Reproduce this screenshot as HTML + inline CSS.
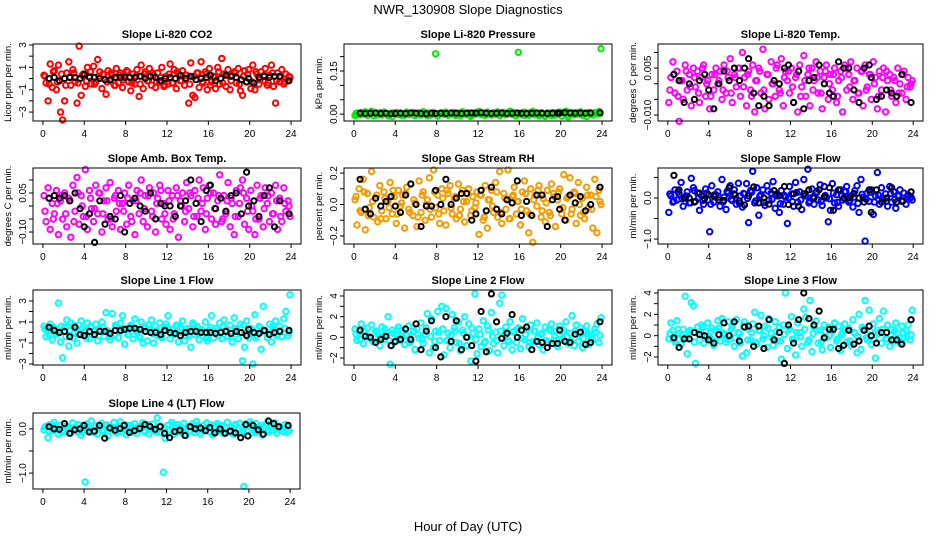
<!DOCTYPE html>
<html><head><meta charset="utf-8"><title>NWR_130908 Slope Diagnostics</title>
<style>
html,body{margin:0;padding:0;background:#fff;}
svg{display:block;font-family:"Liberation Sans",Arial,sans-serif;}
</style></head>
<body>
<svg id="chart" width="936" height="540" viewBox="0 0 936 540" xmlns="http://www.w3.org/2000/svg">
<rect x="0" y="0" width="936" height="540" fill="#fff"/>
<text x="468" y="14" text-anchor="middle" font-size="13">NWR_130908  Slope Diagnostics</text>
<text x="468" y="531" text-anchor="middle" font-size="13">Hour of Day (UTC)</text>
</svg>
<script>
// ---- shared x categories (hours) ----
const hours = [0.1,0.3,0.5,0.7,0.9,1.1,1.3,1.5,1.7,1.9,2.1,2.3,
2.5,2.7,2.9,3.1,3.3,3.5,3.7,3.9,4.1,4.3,4.5,4.7,
4.9,5.1,5.3,5.5,5.7,5.9,6.1,6.3,6.5,6.7,6.9,7.1,
7.3,7.5,7.7,7.9,8.1,8.3,8.5,8.7,8.9,9.1,9.3,9.5,
9.7,9.9,10.1,10.3,10.5,10.7,10.9,11.1,11.3,11.5,11.7,11.9,
12.1,12.3,12.5,12.7,12.9,13.1,13.3,13.5,13.7,13.9,14.1,14.3,
14.5,14.7,14.9,15.1,15.3,15.5,15.7,15.9,16.1,16.3,16.5,16.7,
16.9,17.1,17.3,17.5,17.7,17.9,18.1,18.3,18.5,18.7,18.9,19.1,
19.3,19.5,19.7,19.9,20.1,20.3,20.5,20.7,20.9,21.1,21.3,21.5,
21.7,21.9,22.1,22.3,22.5,22.7,22.9,23.1,23.3,23.5,23.7,23.9];
const coreHours = [0.2,0.6,1.0,1.4,1.8,2.2,2.6,3.0,3.4,3.8,4.2,4.6,5.0,5.4,5.8,6.2,6.6,7.0,7.4,7.8,
8.2,8.6,9.0,9.4,9.8,10.2,10.6,11.0,11.4,11.8,12.2,12.6,13.0,13.4,13.8,14.2,14.6,15.0,15.4,15.8,
16.2,16.6,17.0,17.4,17.8,18.2,18.6,19.0,19.4,19.8,20.2,20.6,21.0,21.4,21.8,22.2,22.6,23.0,23.4,23.8];
const blackHours = [0.6,1.1,1.6,2.1,2.6,3.1,3.6,4.0,4.5,5.0,5.5,6.0,6.5,7.0,7.5,7.9,8.4,8.9,9.4,9.9,10.4,10.9,11.4,11.8,12.3,12.8,13.3,13.8,14.3,14.8,15.3,15.8,16.2,16.7,17.2,17.7,18.2,18.7,19.2,19.7,19.9,20.4,20.9,21.4,21.9,22.4,22.9,23.8];
const xTicks = [0,4,8,12,16,20,24];

// ---- series values ----
const co2Vals = [0.3,-0.4,-2.0,1.3,-0.8,0.7,-1.0,1.2,-3.0,-3.7,-2.0,0.5,
1.5,-0.6,0.8,-0.3,-2.2,2.9,-1.5,0.4,-0.7,1.0,0.2,-0.5,
1.1,-0.3,1.7,0.6,-0.9,0.4,-1.4,0.7,-0.2,0.3,-0.6,0.9,
-0.4,0.5,-0.8,0.2,0.7,-0.3,-1.1,0.4,-0.5,0.8,-1.6,1.2,
-0.9,0.6,-0.2,0.9,-0.6,0.3,-0.8,0.5,-0.3,1.0,-0.7,0.2,
-0.5,1.3,-0.4,0.8,-0.9,0.4,-0.2,0.7,-0.6,0.3,-2.2,1.4,
-1.5,-1.7,0.5,-0.8,1.5,-0.4,0.6,-1.0,0.9,-0.3,0.2,-0.9,
1.0,-0.5,1.8,0.4,-0.7,0.8,-1.0,0.3,0.6,-0.4,0.9,-1.1,
-1.5,0.7,-0.3,0.8,-0.9,1.2,-1.0,0.4,-0.5,0.6,-0.2,0.9,
-0.6,0.3,1.2,-0.7,-2.2,0.5,-0.3,0.8,-0.5,0.4,-0.2,0.1];
const co2Core = [0.2,-0.5,0.6,-0.3,0.4,-0.6,0.1,0.5,-0.4,0.3,-0.2,0.6,-0.5,0.2,0.4,-0.3,0.5,-0.6,0.3,-0.1,
0.6,-0.4,0.2,-0.5,0.4,-0.2,0.5,-0.3,0.1,-0.6,0.4,-0.4,0.6,-0.2,0.3,-0.5,0.2,0.5,-0.3,0.4,
-0.6,0.1,0.6,-0.4,0.3,-0.2,0.5,-0.5,0.2,0.4,-0.3,0.6,-0.1,0.3,-0.4,0.5,-0.2,0.1,-0.3,0.2];
const co2Black = [0,0.1,-0.2,0,0.1,0.1,0.0,0.4,0.1,0.1,0.0,-0.1,-0.1,0.1,0.1,0.1,0.1,0.1,0.2,0.0,0.2,0.1,-0.2,0.0,0.1,0.0,0.3,0.0,0.2,-0.1,0.0,0.1,0.3,-0.2,0.0,0.3,0.2,0.1,-0.1,-0.3,0.0,-0.4,0.1,0.2,0.1,0.2,0.2,-0.2];

const presVals = [-0.005,0.003,-0.002,0.006,0.000,0.008,-0.004,0.002,0.010,-0.006,0.004,-0.001,
0.005,-0.003,0.007,0.001,-0.005,0.003,-0.008,0.002,0.006,-0.002,0.004,0.000,
-0.004,0.007,-0.001,0.003,0.006,-0.005,0.002,0.005,-0.003,0.008,0.000,-0.006,
0.004,-0.002,0.006,0.210,-0.007,0.003,0.005,-0.001,0.007,-0.004,0.002,0.000,
0.006,-0.003,0.004,-0.006,0.008,0.001,-0.002,0.005,-0.008,0.003,0.000,0.006,
0.009,-0.001,0.004,-0.004,0.007,0.002,-0.003,0.005,0.000,0.008,-0.005,0.003,
0.006,-0.002,0.004,0.010,-0.001,0.005,-0.006,0.215,0.002,-0.003,0.007,0.001,
-0.004,0.006,0.009,-0.002,0.003,-0.006,0.005,0.000,-0.008,0.004,0.002,-0.005,
0.006,-0.003,0.001,0.007,-0.007,0.004,0.010,-0.009,0.003,0.006,-0.002,0.005,
0.000,0.008,-0.004,0.003,-0.008,0.006,0.001,-0.003,0.005,0.002,0.009,0.228];
const presCore = [0.002,-0.002,0.004,0.000,0.003,-0.003,0.005,0.001,-0.001,0.004,0.002,-0.004,0.003,0.000,0.005,-0.002,0.001,0.004,-0.003,0.002,
0.000,0.005,-0.001,0.003,-0.004,0.002,0.004,0.000,-0.002,0.005,0.001,-0.003,0.003,0.002,-0.001,0.004,0.000,0.006,-0.002,0.003,
0.001,-0.004,0.005,0.002,-0.001,0.003,0.000,0.004,-0.003,0.002,0.005,-0.002,0.001,0.004,0.000,-0.003,0.003,0.002,0.005,0.001];
const presBlack = [0.003,0.002,0.003,0.004,0.002,0.003,0.001,0.002,0.003,0.002,0.004,0.003,0.002,0.001,0.003,0.002,0.003,0.002,0.004,0.003,0.002,0.003,0.004,0.003,0.005,0.003,0.002,0.003,0.004,0.002,0.003,0.004,0.003,0.002,0.003,0.004,0.003,0.002,0.003,0.004,0.003,0.005,0.004,0.003,0.004,0.003,0.004,0.005];

const tempVals = [-0.006,0.002,0.007,-0.003,0.004,-0.012,0.001,-0.005,0.006,-0.002,0.003,-0.007,
0.005,-0.001,0.004,-0.006,0.002,0.006,-0.004,0.001,-0.008,0.003,-0.002,0.005,
0.000,0.004,-0.005,0.006,-0.003,0.002,0.008,-0.006,0.003,-0.001,0.005,-0.004,
0.010,0.002,-0.007,0.004,-0.002,0.006,-0.009,0.001,0.005,-0.003,0.011,-0.008,
0.003,-0.005,0.007,0.000,-0.004,0.006,-0.002,0.008,-0.007,0.004,0.001,-0.003,
0.005,-0.006,0.002,-0.009,0.006,-0.001,0.009,-0.004,0.003,-0.007,0.005,0.001,
0.007,-0.003,0.004,-0.008,0.002,0.006,-0.005,0.003,-0.002,0.005,-0.006,0.001,
0.004,-0.009,0.006,-0.002,0.003,0.007,-0.005,0.001,0.005,-0.003,0.004,-0.007,
0.006,-0.001,0.003,-0.005,0.007,0.002,-0.008,0.004,-0.002,0.005,-0.009,0.001,
0.003,-0.004,0.002,-0.006,0.005,0.000,-0.003,0.004,-0.005,0.002,-0.001,0.001];
const tempCore = [-0.002,0.003,-0.004,0.001,0.004,-0.001,0.002,-0.003,0.005,0.000,-0.004,0.003,0.001,-0.002,0.004,-0.003,0.002,0.005,-0.001,0.003,
-0.004,0.001,0.004,-0.002,0.003,0.000,0.005,-0.003,0.002,0.004,-0.001,0.003,-0.004,0.001,0.005,-0.002,0.002,-0.003,0.004,0.000,
0.003,-0.004,0.002,0.005,-0.001,0.001,-0.003,0.004,-0.002,0.003,0.000,-0.004,0.002,0.004,-0.002,0.001,-0.003,0.003,-0.001,0.000];
const tempBlack = [0.003,0.001,-0.006,0.000,-0.005,0.001,0.003,-0.002,-0.008,0.000,0.004,0.001,0.005,0.001,0.005,0.008,-0.003,-0.007,-0.004,-0.007,0.001,0.000,0.005,0.006,-0.006,0.004,-0.008,0.001,0.002,0.006,0.000,-0.003,-0.004,0.007,0.005,0.005,-0.002,-0.006,0.005,0.006,0.002,-0.005,-0.004,-0.002,-0.003,-0.004,0.003,-0.006];

const ambVals = [0.04,-0.06,0.07,-0.09,0.01,-0.03,0.06,-0.11,0.02,-0.05,0.05,-0.08,
0.03,-0.12,0.08,-0.02,0.11,-0.07,0.04,-0.04,0.14,-0.09,0.06,-0.01,
-0.06,0.08,-0.03,0.05,-0.10,0.02,0.07,-0.05,0.09,-0.08,0.03,-0.02,
0.06,-0.09,0.01,0.05,-0.07,0.08,-0.04,0.02,-0.11,0.06,-0.03,0.10,
-0.06,0.04,-0.08,0.07,-0.02,0.05,-0.10,0.03,0.08,-0.05,0.01,-0.07,
0.06,-0.09,0.04,-0.03,0.07,-0.12,0.02,0.05,-0.06,0.09,-0.01,0.04,
-0.08,0.06,-0.04,0.10,-0.02,0.07,-0.09,0.03,0.08,-0.05,0.05,-0.07,
0.02,0.12,-0.06,0.04,-0.03,0.09,-0.08,0.01,-0.11,0.06,-0.04,0.07,
0.10,-0.07,0.03,-0.09,0.06,-0.02,-0.11,0.08,-0.05,0.04,-0.08,0.07,
0.01,-0.06,0.05,-0.03,0.08,-0.09,0.03,-0.06,0.07,-0.02,0.02,-0.04];
const ambCore = [-0.02,0.03,-0.05,0.01,0.04,-0.03,0.02,-0.06,0.05,0.00,-0.04,0.03,-0.01,0.05,-0.03,0.02,-0.05,0.04,0.01,-0.02,
0.03,-0.06,0.02,0.05,-0.01,0.04,-0.04,0.01,0.06,-0.03,0.02,-0.05,0.04,0.00,-0.02,0.05,-0.04,0.03,0.01,-0.03,
0.05,-0.01,0.04,-0.05,0.02,0.03,-0.04,0.01,0.05,-0.02,0.00,-0.05,0.03,-0.01,0.04,-0.03,0.02,-0.04,0.01,0.00];
const ambBlack = [0.03,0.04,0.03,0.04,0.02,0.05,-0.01,-0.08,-0.03,-0.14,0.02,-0.07,-0.04,-0.05,0.04,-0.10,0.01,0.03,0.00,-0.02,0.05,-0.05,0.01,0.00,0.00,-0.04,0.00,0.02,0.10,0.01,-0.06,0.06,0.08,-0.01,0.03,-0.02,0.04,0.05,-0.03,0.13,0.00,0.02,-0.04,0.04,0.07,-0.08,0.02,-0.03];

const rhVals = [0.03,-0.13,0.10,-0.05,0.16,-0.16,0.07,-0.02,0.21,-0.08,0.04,-0.11,
0.12,-0.04,0.08,-0.09,0.02,0.14,-0.06,0.05,-0.12,0.09,-0.01,0.06,
-0.15,0.11,-0.03,0.13,-0.07,0.01,-0.14,0.15,-0.05,0.08,-0.10,0.03,
0.17,-0.08,0.22,-0.02,0.06,-0.12,0.10,-0.04,-0.13,0.07,0.12,-0.06,
0.04,-0.09,0.13,-0.03,0.09,-0.11,0.02,0.10,-0.07,0.05,-0.02,0.08,
-0.19,0.06,-0.10,0.12,-0.15,0.03,0.09,-0.05,0.14,-0.08,0.21,-0.12,
0.07,-0.03,0.22,-0.09,0.05,0.11,-0.06,0.02,-0.13,0.08,0.15,-0.04,
-0.18,0.10,-0.24,0.06,-0.01,0.12,-0.08,0.04,-0.11,0.09,-0.05,0.13,
0.07,-0.14,0.03,0.10,-0.06,0.19,-0.10,0.05,0.17,-0.03,0.08,-0.12,
0.14,-0.07,0.04,-0.09,0.11,-0.02,0.06,-0.15,0.16,-0.18,0.09,0.00];
const rhCore = [0.05,-0.04,0.08,-0.07,0.02,0.06,-0.09,0.04,-0.02,0.09,-0.06,0.01,0.07,-0.05,0.03,-0.08,0.06,0.00,-0.03,0.08,
-0.06,0.04,0.09,-0.02,0.05,-0.07,0.02,0.07,-0.04,0.01,0.06,-0.08,0.03,-0.01,0.08,-0.05,0.04,-0.09,0.06,0.02,
-0.03,0.07,-0.06,0.03,0.09,-0.04,0.01,-0.07,0.05,0.08,-0.02,0.04,-0.06,0.07,0.00,-0.05,0.06,-0.03,0.05,0.02];
const rhBlack = [0.16,-0.03,-0.06,0.04,-0.01,0.02,0.05,-0.01,-0.05,0.06,0.13,0.00,-0.14,-0.01,-0.01,0.09,0.00,0.16,0.00,0.04,0.07,0.07,-0.10,-0.06,0.09,-0.04,0.11,-0.03,-0.06,0.03,0.01,0.15,-0.07,0.02,-0.07,0.06,0.06,-0.14,0.03,0.05,-0.03,-0.10,0.06,0.01,0.05,-0.04,0.00,0.11];

const flowVals = [-0.35,0.05,-0.10,0.20,-0.05,0.10,0.38,-0.20,0.00,0.15,-0.12,0.48,
0.25,-0.08,0.12,-0.30,0.05,-0.15,0.22,-0.05,-0.82,0.30,-0.10,0.08,
0.15,-0.20,0.45,0.02,-0.28,0.12,0.30,-0.06,0.20,-0.15,0.36,0.05,
-0.22,0.10,0.35,-0.60,0.18,0.65,-0.12,0.25,-0.42,0.08,0.20,-0.18,
0.30,-0.05,0.12,0.40,-0.25,0.05,-0.35,0.18,-0.15,0.02,-0.62,0.28,
0.10,-0.20,0.38,-0.10,0.15,-0.28,0.45,0.05,0.70,-0.08,0.22,-0.15,
0.12,-0.05,0.32,-0.18,0.28,0.00,-0.58,-0.30,0.35,-0.12,0.08,-0.20,
0.20,-0.05,0.15,0.28,-0.10,0.05,-0.22,0.18,0.30,-0.35,0.45,0.02,
-1.05,0.12,-0.08,0.20,-0.40,0.05,0.62,-0.15,0.25,-0.05,0.10,-0.20,
0.28,-0.10,0.15,-0.25,0.05,0.20,-0.08,0.12,-0.15,0.08,0.00,-0.05];
const flowCore = [0.10,-0.08,0.15,-0.02,0.05,-0.12,0.18,0.00,-0.06,0.12,-0.15,0.08,0.02,-0.10,0.16,-0.04,0.07,-0.13,0.11,-0.01,
0.14,-0.07,0.04,-0.11,0.17,-0.03,0.09,-0.14,0.06,0.01,-0.09,0.13,-0.05,0.10,-0.12,0.03,0.15,-0.08,0.06,-0.02,
0.12,-0.11,0.05,0.16,-0.06,0.02,-0.13,0.09,-0.03,0.14,-0.10,0.07,0.00,-0.08,0.11,-0.04,0.06,-0.07,0.03,0.02];
const flowBlack = [0.55,0.20,0.00,0.00,-0.10,0.12,-0.02,0.08,0.05,-0.05,-0.06,0.25,0.10,-0.07,-0.17,0.05,0.27,-0.12,0.00,-0.15,0.18,0.05,0.28,-0.16,0.10,-0.20,0.10,0.20,0.00,0.20,0.03,0.25,-0.30,0.20,0.00,0.00,0.11,0.00,-0.10,0.20,-0.35,0.20,-0.10,0.00,0.25,-0.10,-0.07,0.15];

const line1Vals = [0.6,-0.4,0.2,0.8,-0.7,0.3,-0.2,2.8,-0.9,-2.4,0.5,1.2,
-1.3,0.9,-0.5,0.4,-1.0,0.7,1.1,-0.3,0.2,0.9,-0.6,0.5,
-0.2,0.8,-0.8,0.3,1.0,-0.4,1.9,0.1,-0.7,1.8,-0.3,0.6,
-0.5,0.9,1.6,-1.1,0.4,-0.2,0.7,-0.6,1.3,0.2,-0.4,1.0,
-1.0,0.5,-0.8,0.3,1.2,-1.0,0.6,-0.3,0.9,-0.5,0.2,0.8,
1.6,-0.6,0.3,-0.2,0.7,-0.9,0.5,1.1,-0.8,0.4,-0.3,-1.4,
0.9,-0.2,0.6,-0.7,0.3,-0.4,1.0,-0.8,0.2,1.6,-0.5,0.4,
-0.3,0.9,-0.6,1.2,0.2,-0.4,0.7,-0.9,1.4,0.3,-0.6,0.8,
-2.7,-1.4,1.1,-0.5,0.4,-3.0,1.7,-0.3,0.6,-1.6,2.5,0.2,
-0.5,0.8,-0.9,0.3,1.1,-0.2,0.6,-0.4,1.3,2.0,-0.3,3.6];
const line1Core = [0.3,-0.2,0.5,0.0,0.6,-0.4,0.2,0.7,-0.1,0.4,-0.5,0.6,0.1,-0.3,0.5,0.2,-0.4,0.7,0.0,0.3,
-0.2,0.6,0.1,-0.5,0.4,0.7,-0.1,0.2,-0.4,0.5,0.3,-0.2,0.6,0.0,-0.3,0.4,0.7,-0.1,0.2,-0.5,
0.5,0.1,-0.3,0.6,0.2,-0.4,0.4,0.0,0.7,-0.2,0.3,-0.5,0.5,0.1,-0.1,0.6,-0.3,0.2,0.4,0.0];
const line1Black = [0.5,0.2,0.0,0.1,-0.4,0.5,-0.2,-0.3,0.1,-0.2,0.1,0.1,-0.1,0.2,0.2,0.3,0.4,0.4,0.3,0.1,0.0,0.0,-0.2,0.2,0.0,-0.1,-0.3,0.0,0.1,0.1,0.0,0.0,0.0,-0.1,0.0,0.1,-0.1,0.1,0.0,-0.3,0.3,0.0,-0.1,0.2,-0.2,0.0,0.1,0.2];

const line2Vals = [0.8,-0.3,0.5,1.3,-0.6,0.2,0.9,-0.1,1.2,-0.4,0.6,0.3,
-0.8,1.0,-0.2,0.4,2.0,-2.6,0.7,-0.5,0.3,1.0,-0.3,0.6,
-0.7,0.2,1.1,-0.4,0.5,-1.2,0.8,-0.1,1.4,-0.6,0.3,2.3,
-1.5,1.8,-1.0,0.6,2.5,-0.3,3.0,-1.7,2.8,0.4,-1.0,2.2,
0.9,-0.5,1.5,-1.3,0.7,2.0,-0.8,1.3,-2.3,0.4,4.2,-1.6,
0.8,-0.9,1.6,-0.4,1.1,-1.3,2.4,-0.6,0.5,-1.5,3.3,4.1,
-0.8,1.0,-0.3,1.5,-1.2,0.6,-0.5,0.9,-1.1,1.8,-0.2,0.7,
-0.9,1.2,-0.4,0.6,1.4,-0.7,0.3,-1.2,1.0,-0.5,0.8,1.3,
-0.3,0.6,-0.9,1.1,-0.2,0.7,1.5,-0.6,0.4,2.1,-0.8,1.2,
-0.4,0.9,-1.0,0.5,1.1,-0.7,0.3,-0.2,0.8,1.3,-0.5,1.9];
const line2Core = [0.3,-0.2,0.6,0.1,-0.4,0.5,0.0,0.8,-0.3,0.4,0.7,-0.1,0.2,-0.5,0.6,0.3,-0.2,0.9,0.1,-0.4,
0.5,0.8,-0.3,0.2,0.6,-0.6,0.4,0.0,0.9,-0.2,0.3,-0.5,0.7,0.1,-0.3,0.6,0.2,-0.4,0.5,0.8,
-0.1,0.3,-0.5,0.6,0.0,0.4,-0.3,0.7,0.2,-0.2,0.5,0.1,-0.4,0.6,0.3,-0.1,0.4,0.0,0.5,0.2];
const line2Black = [0.7,0.1,0.0,-0.5,-0.2,0.1,-0.8,-0.4,-0.2,0.8,-0.2,1.3,-1.2,0.6,1.6,-1.0,-1.9,2.0,-0.4,1.6,-1.2,0.0,-0.8,-2.3,2.5,-1.4,4.2,1.5,-0.1,0.4,2.2,0.0,0.7,1.0,-1.2,-0.4,-0.5,-1.0,-0.6,-0.6,0.7,-0.4,-0.5,0.3,0.5,-0.7,-0.5,1.5];

const line3Vals = [-0.3,1.2,0.5,-0.6,1.4,0.2,-0.8,0.6,3.7,-1.7,0.3,3.1,
2.8,-2.6,0.8,-0.4,1.0,-0.7,0.4,1.2,-0.2,0.7,-0.9,0.5,
1.4,-0.5,1.6,0.2,-0.6,1.3,-0.3,0.8,-1.0,1.5,0.3,-0.7,
-1.9,1.3,-1.6,0.6,-0.4,1.1,2.2,-0.8,0.5,1.9,-0.3,0.9,
-1.1,1.6,0.2,-0.9,1.3,-0.5,0.8,-2.2,1.0,4.0,-1.2,0.6,
1.8,-0.4,-1.8,1.2,0.3,-1.0,2.5,1.7,-0.6,3.3,-1.5,0.8,
1.4,-0.7,0.5,-1.3,1.0,-0.2,0.8,-1.1,0.4,1.2,-0.5,0.9,
-1.4,0.3,1.1,-0.6,0.7,-0.9,1.5,0.2,-1.6,2.0,-1.3,0.6,
3.3,-0.4,2.4,-0.8,1.1,-2.1,0.5,1.6,-0.7,2.3,-0.3,1.0,
-1.0,0.6,-0.5,1.2,0.2,-0.7,0.9,-0.2,0.5,1.0,-0.4,2.4];
const line3Core = [0.2,-0.4,0.6,0.0,-0.2,0.5,-0.6,0.3,0.8,-0.1,0.4,-0.5,0.7,0.1,-0.3,0.6,-0.2,0.2,0.9,-0.4,
0.3,-0.6,0.5,0.0,0.7,-0.2,0.4,-0.5,0.1,0.8,-0.3,0.3,-0.1,0.6,-0.4,0.2,0.5,-0.6,0.4,0.0,
0.7,-0.3,0.1,0.6,-0.5,0.3,-0.1,0.8,-0.2,0.4,-0.4,0.2,0.6,-0.3,0.0,0.5,-0.2,0.3,-0.1,0.1];
const line3Black = [-0.2,-1.1,-0.3,-0.3,0.3,0.1,0.0,-0.4,-0.7,0.1,1.2,0.0,1.3,-0.5,0.8,0.9,-1.0,0.9,-1.2,1.5,-0.4,0.3,-2.6,1.0,-0.7,1.5,4.0,1.6,1.0,2.3,-0.2,0.6,0.6,-1.2,-0.9,0.5,-0.8,-0.5,0.5,0.9,0.0,-0.7,0.3,0.3,-0.4,-0.4,-0.8,1.5];

const line4Vals = [-0.02,0.06,-0.20,0.10,-0.05,0.15,0.03,-0.12,0.08,-0.04,0.12,-0.08,
0.05,-0.10,0.14,0.00,-0.06,0.09,-0.14,0.04,-1.20,0.11,-0.03,0.18,
-0.08,0.07,-0.12,0.02,0.13,-0.05,0.09,-0.16,0.06,-0.02,0.15,-0.09,
0.04,0.16,-0.06,0.10,-0.13,0.03,0.08,-0.04,0.12,-0.10,0.05,-0.01,
0.14,-0.07,0.09,-0.11,0.02,0.11,-0.05,0.25,0.06,-0.09,-0.98,-0.22,
0.08,-0.03,0.15,-0.12,0.04,0.10,-0.07,0.01,0.13,-0.15,0.06,-0.04,
0.11,-0.08,0.17,0.02,-0.11,0.07,-0.02,0.14,-0.06,0.09,-0.13,0.04,
0.12,-0.05,0.08,-0.10,0.03,0.15,-0.07,0.06,-0.12,0.10,-0.01,0.13,
-0.08,-1.30,0.11,-0.04,0.16,-0.09,0.05,0.12,-0.06,0.08,-0.14,0.02,
0.13,-0.07,0.09,-0.03,0.14,-0.10,0.06,0.00,-0.05,0.10,-0.08,-0.04];
const line4Core = [0.04,-0.05,0.08,0.00,-0.07,0.06,0.02,-0.03,0.10,-0.06,0.05,0.01,-0.08,0.07,-0.02,0.09,0.03,-0.05,0.06,-0.01,
0.08,-0.07,0.02,0.05,-0.04,0.10,0.00,-0.06,0.07,0.03,-0.02,0.09,-0.08,0.04,0.01,-0.05,0.06,0.08,-0.03,0.02,
-0.07,0.05,0.09,-0.02,0.03,-0.06,0.07,0.00,-0.04,0.06,0.10,-0.08,0.02,0.05,-0.03,0.08,-0.01,0.04,-0.06,0.03];
const line4Black = [0.05,0.00,-0.01,0.12,-0.10,-0.02,0.00,0.08,-0.07,-0.05,0.08,-0.21,0.02,-0.03,0.01,0.08,-0.08,-0.04,0.01,0.10,0.06,-0.01,0.05,-0.10,-0.20,-0.06,-0.03,-0.15,0.05,0.00,0.02,-0.04,0.03,-0.09,0.00,-0.10,-0.05,-0.09,-0.20,0.10,-0.16,0.08,-0.02,-0.12,0.18,0.12,0.05,0.08];

// ---- tick arrays ----
const co2Ticks = [-3,-2,-1,0,1,2,3];           const co2Labels = ["-3","","-1","","1","","3"];
const presTicks = [0,0.05,0.10,0.15,0.20];     const presLabels = ["0.00","","","0.15",""];
const tempTicks = [-0.010,-0.005,0,0.005,0.010]; const tempLabels = ["-0.010","","","0.005",""];
const ambTicks = [-0.10,-0.05,0,0.05,0.10];    const ambLabels = ["-0.10","","","0.05",""];
const rhTicks = [-0.2,-0.1,0,0.1,0.2];         const rhLabels = ["-0.2","","0.0","","0.2"];
const flowTicks = [-1.0,-0.5,0,0.5];           const flowLabels = ["-1.0","","0.0",""];
const l1Ticks = [-3,-2,-1,0,1,2,3];            const l1Labels = ["-3","","-1","","1","","3"];
const l2Ticks = [-2,-1,0,1,2,3,4];             const l2Labels = ["-2","","0","","2","","4"];
const l3Ticks = [-2,-1,0,1,2,3,4];             const l3Labels = ["-2","","0","","2","","4"];
const l4Ticks = [-1.0,-0.5,0];                 const l4Labels = ["-1.0","","0.0"];

const SVGNS = "http://www.w3.org/2000/svg";
const svg = document.getElementById('chart');
function mk(tag, attrs, parent){
  const e = document.createElementNS(SVGNS, tag);
  for (const k in attrs) e.setAttribute(k, attrs[k]);
  (parent||svg).appendChild(e);
  return e;
}

const panels = [
 {key:'co2', title:'Slope Li-820 CO2', ylab:'Licor ppm per min.', box:[33,44,301,121], ylim:[-3.8,3.09], vals:co2Vals, core:co2Core, black:co2Black, ticks:co2Ticks, labels:co2Labels, color:'#ff0000'},
 {key:'pressure', title:'Slope Li-820 Pressure', ylab:'kPa per min.', box:[344,44,612,121], ylim:[-0.024,0.244], vals:presVals, core:presCore, black:presBlack, ticks:presTicks, labels:presLabels, color:'#00ee00'},
 {key:'temp', title:'Slope Li-820 Temp.', ylab:'degrees C per min.', box:[658,44,923,121], ylim:[-0.0119,0.0127], vals:tempVals, core:tempCore, black:tempBlack, ticks:tempTicks, labels:tempLabels, color:'#ff00ff'},
 {key:'amb-box-temp', title:'Slope Amb. Box Temp.', ylab:'degrees C per min.', box:[33,168,301,244], ylim:[-0.146,0.146], vals:ambVals, core:ambCore, black:ambBlack, ticks:ambTicks, labels:ambLabels, color:'#ff00ff'},
 {key:'gas-stream-rh', title:'Slope Gas Stream RH', ylab:'percent per min.', box:[344,168,612,244], ylim:[-0.251,0.232], vals:rhVals, core:rhCore, black:rhBlack, ticks:rhTicks, labels:rhLabels, color:'#f59a00'},
 {key:'sample-flow', title:'Slope Sample Flow', ylab:'ml/min per min.', box:[658,168,923,244], ylim:[-1.12,0.73], vals:flowVals, core:flowCore, black:flowBlack, ticks:flowTicks, labels:flowLabels, color:'#0000ff'},
 {key:'line1-flow', title:'Slope Line 1 Flow', ylab:'ml/min per min.', box:[33,290,301,365], ylim:[-3.1,4.05], vals:line1Vals, core:line1Core, black:line1Black, ticks:l1Ticks, labels:l1Labels, color:'#00ffff'},
 {key:'line2-flow', title:'Slope Line 2 Flow', ylab:'ml/min per min.', box:[344,290,612,365], ylim:[-2.68,4.58], vals:line2Vals, core:line2Core, black:line2Black, ticks:l2Ticks, labels:l2Labels, color:'#00ffff'},
 {key:'line3-flow', title:'Slope Line 3 Flow', ylab:'ml/min per min.', box:[658,290,923,365], ylim:[-2.75,4.28], vals:line3Vals, core:line3Core, black:line3Black, ticks:l3Ticks, labels:l3Labels, color:'#00ffff'},
 {key:'line4-flow', title:'Slope Line 4 (LT) Flow', ylab:'ml/min per min.', box:[33,413,300,489], ylim:[-1.36,0.36], vals:line4Vals, core:line4Core, black:line4Black, ticks:l4Ticks, labels:l4Labels, color:'#00ffff'}
];

panels.forEach(p => {
  const [x0,y0,x1,y1] = p.box;
  const g = mk('g', {});
  
  
  const xs = v => x0 + (v - (-0.96)) / (24.96 - (-0.96)) * (x1 - x0);
  const ys = v => y1 - (v - p.ylim[0]) / (p.ylim[1] - p.ylim[0]) * (y1 - y0);

  const t = mk('text', {x:(x0+x1)/2, y:y0-6, 'text-anchor':'middle', 'font-size':11, 'font-weight':'bold'}, g);
  t.textContent = p.title;
  
  

  const pts = mk('g', {fill:'none', 'stroke-width':2}, g);
  
  
  const n = Math.min(hours.length, p.vals.length);
  for (let i=0;i<n;i++){
    const c = mk('circle', {cx:xs(hours[i]).toFixed(1), cy:ys(p.vals[i]).toFixed(1), r:2.7, stroke:p.color}, pts);
    
    
  }
  const nc = Math.min(coreHours.length, p.core.length);
  for (let i=0;i<nc;i++){
    const c = mk('circle', {cx:xs(coreHours[i]).toFixed(1), cy:ys(p.core[i]).toFixed(1), r:2.7, stroke:p.color}, pts);
    
    
  }
  const nb = Math.min(blackHours.length, p.black.length);
  for (let i=0;i<nb;i++){
    const c = mk('circle', {cx:xs(blackHours[i]).toFixed(1), cy:ys(p.black[i]).toFixed(1), r:2.6, stroke:'#000'}, pts);
    
    
  }

  const box = mk('rect', {x:x0, y:y0, width:x1-x0, height:y1-y0, fill:'none', stroke:'#000', 'stroke-width':1}, g);
  
  

  const xa = mk('g', {}, g);
  
  
  xTicks.forEach(v => {
    const x = xs(v);
    mk('line', {x1:x, y1:y1, x2:x, y2:y1+4, stroke:'#000'}, xa);
    const tl = mk('text', {x:x, y:y1+16, 'text-anchor':'middle', 'font-size':10}, xa);
    tl.textContent = v;
    
    
  });
  const ya = mk('g', {}, g);
  
  
  p.ticks.forEach((v, i) => {
    const y = ys(v);
    mk('line', {x1:x0-4, y1:y, x2:x0, y2:y, stroke:'#000'}, ya);
    if (p.labels[i]) {
      const tl = mk('text', {x:x0-7, y:y, 'text-anchor':'middle', 'font-size':10, transform:`rotate(-90 ${x0-7} ${y})`}, ya);
      tl.textContent = p.labels[i].replace('-', '\u2212');
      
      
    }
  });
  const yt = mk('text', {x:x0-22, y:(y0+y1)/2, 'text-anchor':'middle', 'font-size':9.5, transform:`rotate(-90 ${x0-22} ${(y0+y1)/2})`}, g);
  yt.textContent = p.ylab;
  
  
});
</script>
</body></html>
